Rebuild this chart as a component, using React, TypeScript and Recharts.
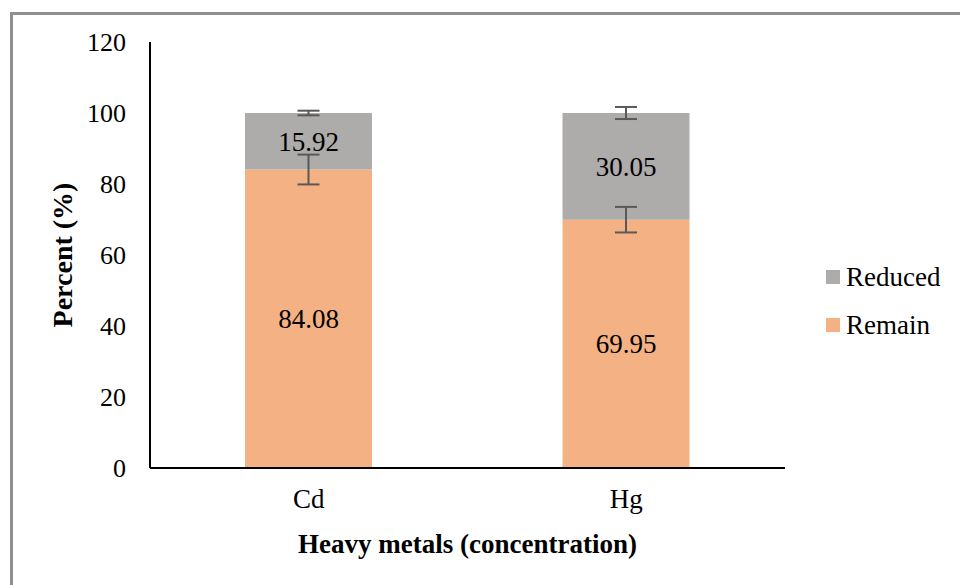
import React from 'react';
import { BarChart, Bar, XAxis, YAxis, Legend, LabelList, ErrorBar } from 'recharts';

const categories = ['Cd', 'Hg'];
const remainValues = [84.08, 69.95];
const reducedValues = [15.92, 30.05];
const remainErrors = [4.2, 3.6];
const reducedErrors = [0.65, 1.7];
const yTicks = [0, 20, 40, 60, 80, 100, 120];

const REMAIN_COLOR = '#F4B183';
const REDUCED_COLOR = '#AEABAB';
const ERR_COLOR = '#595959';
const FONT = '"Liberation Serif", "Times New Roman", serif';

const data = categories.map((c, i) => ({
  name: c,
  remain: remainValues[i],
  reduced: reducedValues[i],
  remainErr: remainErrors[i],
  reducedErr: reducedErrors[i],
}));

const legendItems = [
  { label: 'Reduced', color: REDUCED_COLOR },
  { label: 'Remain', color: REMAIN_COLOR },
];

const renderLegend = () => (
  <div style={{ fontFamily: FONT, fontSize: 27, color: '#000' }}>
    {legendItems.map((it) => (
      <div key={it.label} style={{ display: 'flex', alignItems: 'center', height: 48 }}>
        <span style={{ display: 'inline-block', width: 14, height: 14, background: it.color, marginRight: 6 }} />
        <span>{it.label}</span>
      </div>
    ))}
  </div>
);

const YLabel = (props: any) => {
  const vb = props.viewBox || { x: 0, y: 0, width: 0, height: 0 };
  const cx = vb.x + 62;
  const cy = vb.y + vb.height / 2;
  return (
    <text
      x={cx}
      y={cy}
      transform={`rotate(-90, ${cx}, ${cy})`}
      textAnchor="middle"
      dominantBaseline="central"
      fontFamily={FONT}
      fontSize={28}
      fontWeight="bold"
      fill="#000"
    >
      Percent (%)
    </text>
  );
};

const XLabel = (props: any) => {
  const vb = props.viewBox || { x: 0, y: 0, width: 0, height: 0 };
  return (
    <text
      x={vb.x + vb.width / 2}
      y={vb.y + 85}
      textAnchor="middle"
      fontFamily={FONT}
      fontSize={27}
      fontWeight="bold"
      fill="#000"
    >
      Heavy metals (concentration)
    </text>
  );
};

const fmt = (v: any) => Number(v).toFixed(2);

export default function App() {
  return (
    <div style={{ position: 'absolute', left: 0, top: 0, width: 960, height: 585, background: '#fff', overflow: 'hidden' }}>
      <div
        style={{
          position: 'absolute',
          left: 10,
          top: 12,
          width: 1000,
          height: 650,
          borderLeft: '3px solid #8f8f8f',
          borderTop: '3px solid #8f8f8f',
        }}
      />
      <div style={{ position: 'absolute', left: 0, top: 0 }}>
        <BarChart
          width={960}
          height={585}
          data={data}
          margin={{ top: 42, right: 175, bottom: 0, left: 0 }}
          style={{ fontFamily: FONT }}
        >
          <XAxis
            dataKey="name"
            axisLine={{ stroke: '#000', strokeWidth: 2 }}
            tickLine={false}
            tickSize={0}
            tickMargin={21}
            tick={{ fontFamily: FONT, fontSize: 27, fill: '#000' }}
            height={117}
            label={<XLabel />}
          />
          <YAxis
            width={150}
            domain={[0, 120]}
            ticks={yTicks}
            interval={0}
            axisLine={{ stroke: '#000', strokeWidth: 2 }}
            tickLine={false}
            tickSize={0}
            tickMargin={24}
            tick={{ fontFamily: FONT, fontSize: 26, fill: '#000' }}
            label={<YLabel />}
          />
          <Legend
            content={renderLegend}
            layout="vertical"
            align="center"
            verticalAlign="middle"
            wrapperStyle={{ position: 'absolute', left: 826, top: 253, width: 130 }}
          />
          <Bar dataKey="remain" stackId="a" fill={REMAIN_COLOR} barSize={127} isAnimationActive={false}>
            <LabelList dataKey="remain" position="center" formatter={fmt} fill="#000" fontFamily={FONT} fontSize={27} />
            <ErrorBar dataKey="remainErr" direction="y" width={11} stroke={ERR_COLOR} strokeWidth={2} />
          </Bar>
          <Bar dataKey="reduced" stackId="a" fill={REDUCED_COLOR} barSize={127} isAnimationActive={false}>
            <LabelList dataKey="reduced" position="center" formatter={fmt} fill="#000" fontFamily={FONT} fontSize={27} />
            <ErrorBar dataKey="reducedErr" direction="y" width={11} stroke={ERR_COLOR} strokeWidth={2} />
          </Bar>
        </BarChart>
      </div>
    </div>
  );
}
